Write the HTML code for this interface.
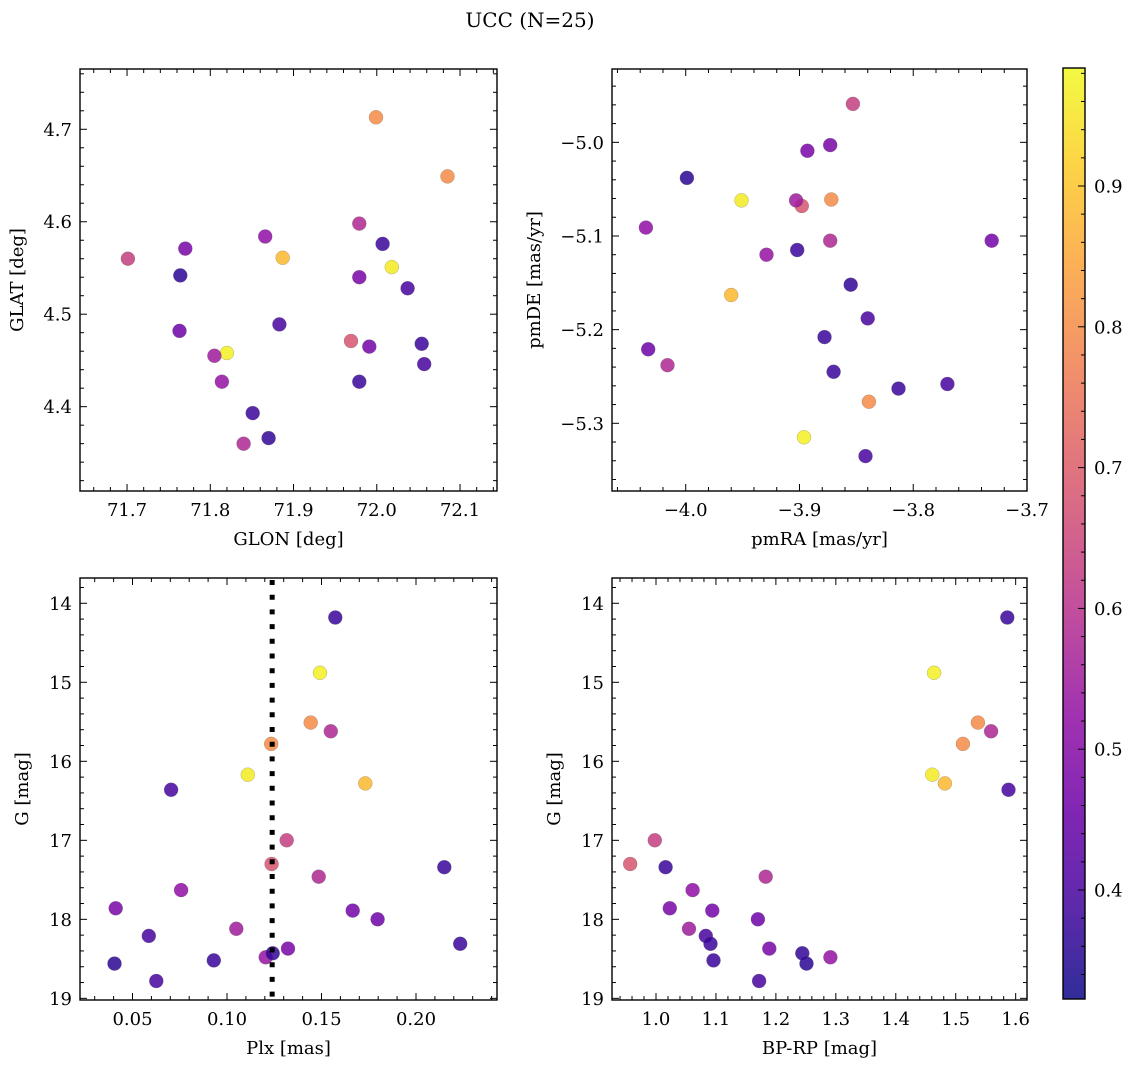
<!DOCTYPE html>
<html><head><meta charset="utf-8"><style>
html,body{margin:0;padding:0;background:#fff}
svg{display:block;font-family:"DejaVu Serif","Liberation Serif",serif}
</style></head><body>
<svg id="fig" width="1136" height="1068" viewBox="0 0 1136 1068" xmlns="http://www.w3.org/2000/svg">
<text x="530" y="27" font-size="20" text-anchor="middle">UCC (N=25)</text>
</svg>
<script>
// data (one entry per star)
const glon = [71.820,72.018,71.999,72.085,71.887,71.969,71.701,71.979,71.840,71.805,71.814,71.866,71.770,71.979,71.991,71.763,71.764,71.883,72.037,72.057,71.851,71.870,72.007,72.054,71.979];
const glat = [4.458,4.551,4.713,4.649,4.561,4.471,4.560,4.598,4.360,4.455,4.427,4.584,4.571,4.540,4.465,4.482,4.542,4.489,4.528,4.446,4.393,4.366,4.576,4.468,4.427];
const pmra = [-3.896,-3.951,-3.872,-3.839,-3.960,-3.898,-3.853,-3.873,-4.016,-3.903,-3.929,-4.035,-3.873,-3.893,-3.731,-4.033,-3.999,-3.840,-3.842,-3.770,-3.902,-3.855,-3.878,-3.813,-3.870];
const pmde = [-5.315,-5.062,-5.061,-5.277,-5.163,-5.068,-4.959,-5.105,-5.238,-5.062,-5.120,-5.091,-5.003,-5.009,-5.105,-5.221,-5.038,-5.188,-5.335,-5.258,-5.115,-5.152,-5.208,-5.263,-5.245];
const plx = [0.1492,0.1110,0.1234,0.1443,0.1732,0.1236,0.1316,0.1485,0.1549,0.1049,0.1205,0.0757,0.0411,0.1323,0.1665,0.1797,0.0405,0.0586,0.0626,0.0704,0.0930,0.1242,0.1573,0.2150,0.2234];
const gmag = [14.88,16.17,15.78,15.51,16.28,17.30,17.00,17.46,15.62,18.12,18.48,17.63,17.86,18.37,17.89,18.00,18.56,18.21,18.78,16.36,18.52,18.43,14.18,17.34,18.31];
const bprp = [1.464,1.461,1.512,1.537,1.482,0.957,0.998,1.183,1.559,1.055,1.291,1.061,1.023,1.189,1.094,1.170,1.251,1.083,1.172,1.588,1.096,1.244,1.586,1.016,1.091];
const cval = [0.97,0.96,0.80,0.80,0.88,0.68,0.63,0.58,0.58,0.55,0.53,0.52,0.48,0.48,0.47,0.46,0.36,0.40,0.40,0.40,0.38,0.37,0.38,0.38,0.38];
const plxLine = [0.1239];
const cbTicks = [0.4,0.5,0.6,0.7,0.8,0.9];

const NS='http://www.w3.org/2000/svg';
const svg=document.getElementById('fig');
function mk(tag,attrs,parent){const e=document.createElementNS(NS,tag);for(const k in attrs)e.setAttribute(k,attrs[k]);(parent||svg).appendChild(e);return e;}
const VMIN=0.3226,VMAX=0.9838;
const stops=['#0d0887','#41049d','#6a00a8','#8f0da4','#b12a90','#cc4778','#e16462','#f2844b','#fca636','#fcce25','#f0f921'];
function hx(h){return [1,3,5].map(i=>parseInt(h.substr(i,2),16));}
function plasma(t){t=Math.max(0,Math.min(1,t));const f=t*10,i=Math.min(9,Math.floor(f)),u=f-i;const a=hx(stops[i]),b=hx(stops[i+1]);return 'rgb('+a.map((v,k)=>Math.round(v+(b[k]-v)*u)).join(',')+')';}
function cmap(v){return plasma((v-VMIN)/(VMAX-VMIN));}
function fmt(v,d){return (v<0?'\u2212':'')+Math.abs(v).toFixed(d);}

const panels=[
 {name:'glon-glat',L:80,R:497,T:69,B:491,x0:71.6435,x1:72.1444,y0:4.3088,y1:4.7652,inv:false,
  xt:[71.7,71.8,71.9,72.0,72.1],xd:1,xm:0.02,yt:[4.4,4.5,4.6,4.7],yd:1,ym:0.02,xs:glon,ys:glat,xl:'GLON [deg]',yl:'GLAT [deg]',ylx:18},
 {name:'pmra-pmde',L:612,R:1027,T:69,B:491,x0:-4.0648,x1:-3.7,y0:-5.3723,y1:-4.9217,inv:false,
  xt:[-4.0,-3.9,-3.8,-3.7],xd:1,xm:0.02,yt:[-5.3,-5.2,-5.1,-5.0],yd:1,ym:0.02,xs:pmra,ys:pmde,xl:'pmRA [mas/yr]',yl:'pmDE [mas/yr]',ylx:535},
 {name:'plx-g',L:80,R:497,T:578,B:1000,x0:0.02222,x1:0.24286,y0:13.68,y1:19.021,inv:true,
  xt:[0.05,0.10,0.15,0.20],xd:2,xm:0.01,yt:[14,15,16,17,18,19],yd:0,ym:0.2,xs:plx,ys:gmag,xl:'Plx [mas]',yl:'G [mag]',ylx:23},
 {name:'bprp-g',L:612,R:1027,T:578,B:1000,x0:0.9266,x1:1.6189,y0:13.68,y1:19.021,inv:true,
  xt:[1.0,1.1,1.2,1.3,1.4,1.5,1.6],xd:1,xm:0.02,yt:[14,15,16,17,18,19],yd:0,ym:0.2,xs:bprp,ys:gmag,xl:'BP-RP [mag]',yl:'G [mag]',ylx:555}
];

panels.forEach((p,pi)=>{
 const g=mk('g',{});
 
 
 const X=v=>p.L+(v-p.x0)/(p.x1-p.x0)*(p.R-p.L);
 const Y=v=>p.inv? p.T+(v-p.y0)/(p.y1-p.y0)*(p.B-p.T) : p.B-(v-p.y0)/(p.y1-p.y0)*(p.B-p.T);
 const pg=mk('g',{},g);
 
 
 for(let i=0;i<p.xs.length;i++){
  const c=mk('circle',{cx:X(p.xs[i]).toFixed(1),cy:Y(p.ys[i]).toFixed(1),r:7,fill:cmap(cval[i]),'fill-opacity':0.85,stroke:'#666','stroke-width':0.4,'stroke-opacity':0.6},pg);
  
  
 }
 if(pi===2){
  const lx=X(plxLine[0]);
  const ln=mk('line',{x1:lx,x2:lx,y1:p.T+2,y2:p.B,stroke:'#000','stroke-width':5,'stroke-dasharray':'5,9.7'},g);
  
  
 }
 const tg=mk('g',{stroke:'#000','stroke-width':1},g);
 
 
 const eps=1e-6;
 for(let v=Math.ceil(p.x0/p.xm-eps)*p.xm; v<=p.x1+eps; v+=p.xm){
  const x=X(v);const maj=p.xt.some(t=>Math.abs(t-v)<p.xm/3);const l=maj?7:4;
  mk('line',{x1:x,x2:x,y1:p.B,y2:p.B-l},tg);mk('line',{x1:x,x2:x,y1:p.T,y2:p.T+l},tg);
 }
 for(let v=Math.ceil(p.y0/p.ym-eps)*p.ym; v<=p.y1+eps; v+=p.ym){
  const y=Y(v);const maj=p.yt.some(t=>Math.abs(t-v)<p.ym/3);const l=maj?7:4;
  mk('line',{x1:p.L,x2:p.L+l,y1:y,y2:y},tg);mk('line',{x1:p.R,x2:p.R-l,y1:y,y2:y},tg);
 }
 const fr=mk('rect',{x:p.L,y:p.T,width:p.R-p.L,height:p.B-p.T,fill:'none',stroke:'#000','stroke-width':1.4},g);
 
 
 p.xt.forEach(v=>{
  const t=mk('text',{x:X(v),y:p.B+25,'font-size':18,'text-anchor':'middle'},g);t.textContent=fmt(v,p.xd);
  
  
 });
 p.yt.forEach(v=>{
  const t=mk('text',{x:p.L-8,y:Y(v)+6.5,'font-size':18,'text-anchor':'end'},g);t.textContent=fmt(v,p.yd);
  
  
 });
 const xt=mk('text',{x:(p.L+p.R)/2,y:p.B+54,'font-size':18,'text-anchor':'middle'},g);xt.textContent=p.xl;
 
 
 const cy=(p.T+p.B)/2;
 const yt=mk('text',{x:p.ylx,y:cy,'font-size':18,'text-anchor':'middle',transform:'rotate(-90 '+p.ylx+' '+cy+')','dominant-baseline':'middle'},g);yt.textContent=p.yl;
 
 
});

const CL=1063,CR=1085,CT=68,CB=999;
const defs=mk('defs',{});
const lg=mk('linearGradient',{id:'cbg',x1:0,y1:1,x2:0,y2:0},defs);
for(let k=0;k<=20;k++){mk('stop',{offset:k/20,'stop-color':plasma(k/20)},lg);}
const cb=mk('g',{});


mk('rect',{x:CL,y:CT,width:CR-CL,height:CB-CT,fill:'url(#cbg)','fill-opacity':0.85},cb);
mk('rect',{x:CL,y:CT,width:CR-CL,height:CB-CT,fill:'none',stroke:'#000','stroke-width':1.4},cb);
const CY=v=>CB-(v-VMIN)/(VMAX-VMIN)*(CB-CT);
for(let v=0.34;v<VMAX;v+=0.02){
 const y=CY(v);const maj=cbTicks.some(t=>Math.abs(t-v)<0.005);
 mk('line',{x1:CR,x2:CR-(maj?7:4),y1:y,y2:y,stroke:'#000','stroke-width':1},cb);
}
cbTicks.forEach(v=>{
 const t=mk('text',{x:CR+9,y:CY(v)+6.5,'font-size':18},cb);t.textContent=v.toFixed(1);
 
 
});
</script>
</body></html>
